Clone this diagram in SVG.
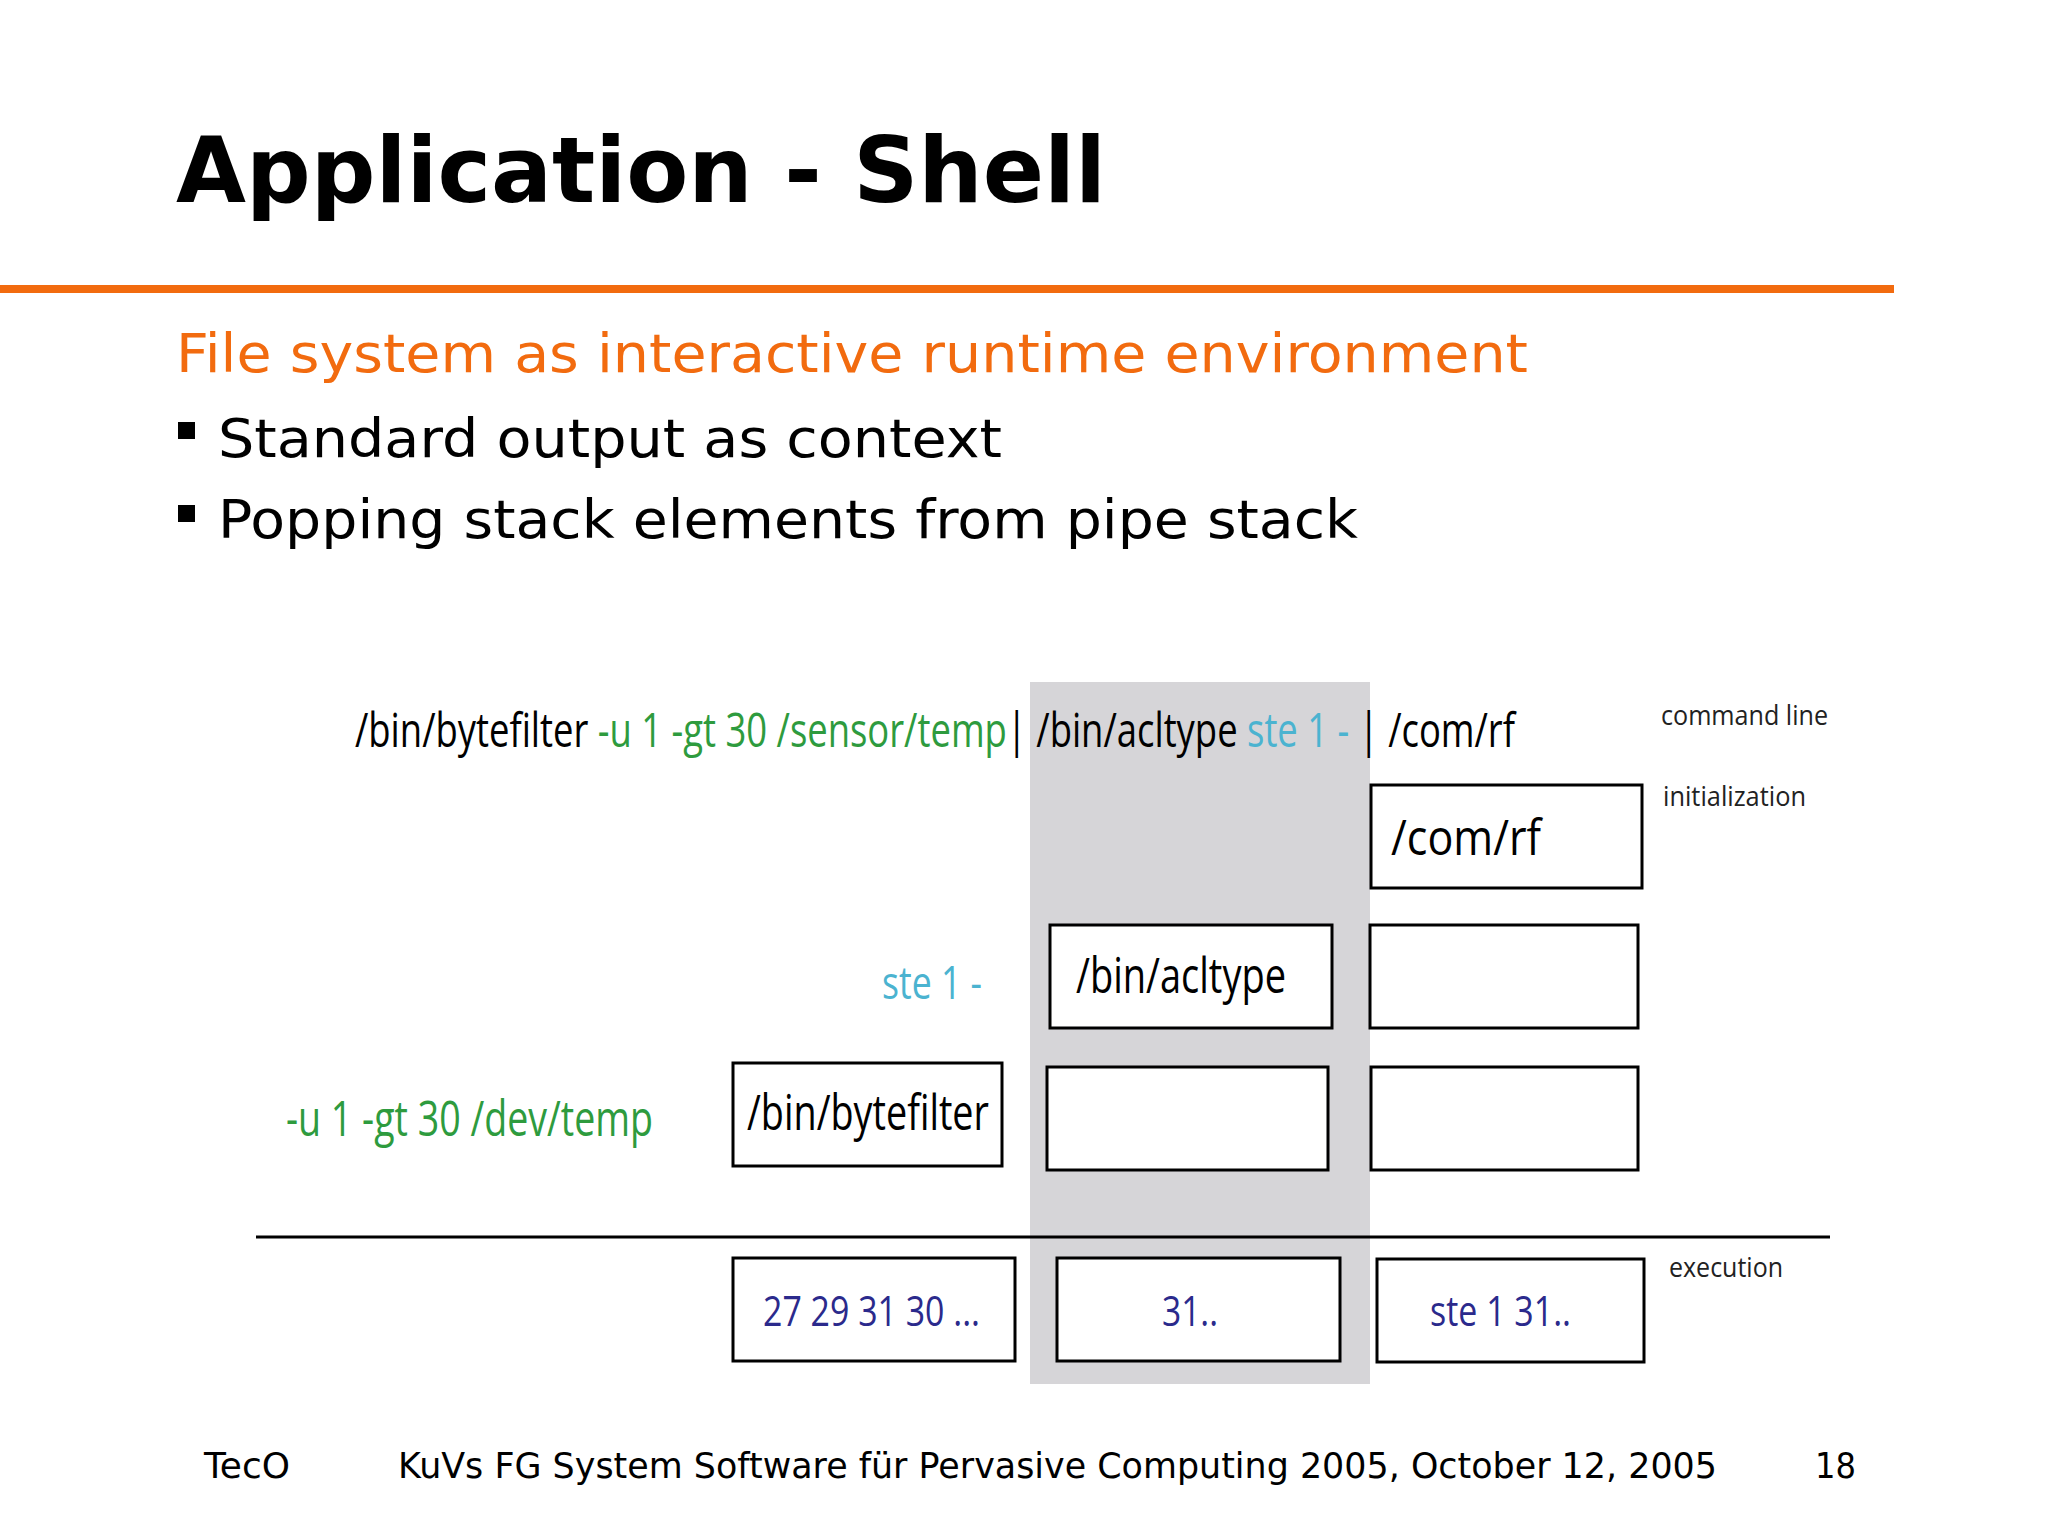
<svg xmlns="http://www.w3.org/2000/svg" width="2048" height="1536" viewBox="0 0 2048 1536">
<style>
.v{font-family:"DejaVu Sans",Verdana,sans-serif}
.c{font-family:"Open Sans","Liberation Sans",sans-serif}
.box{fill:#fff;stroke:#000;stroke-width:3}
.k{fill:#000}.g{fill:#2E9B3E}.b{fill:#4BB3D0}.n{fill:#2B2A8C}
</style>
<rect width="2048" height="1536" fill="#fff"/>
<text class="v" x="176" y="202" font-size="90" font-weight="bold" textLength="930" lengthAdjust="spacingAndGlyphs">Application - Shell</text>
<rect x="0" y="285" width="1894" height="8" fill="#F26B0F"/>
<text class="v" x="176" y="372" font-size="54" fill="#F26B0F" textLength="1352" lengthAdjust="spacingAndGlyphs">File system as interactive runtime environment</text>
<rect x="178" y="422" width="17" height="17" fill="#000"/>
<text class="v" x="218" y="457" font-size="54" textLength="784" lengthAdjust="spacingAndGlyphs">Standard output as context</text>
<rect x="178" y="505" width="17" height="17" fill="#000"/>
<text class="v" x="218" y="538" font-size="54" textLength="1140" lengthAdjust="spacingAndGlyphs">Popping stack elements from pipe stack</text>
<rect x="1030" y="682" width="340" height="702" fill="#D6D5D8"/>
<g id="cmdline">
<text class="c k" x="355" y="747" font-size="48" textLength="1160" lengthAdjust="spacingAndGlyphs">/bin/bytefilter <tspan class="g">-u 1 -gt 30 /sensor/temp</tspan>| /bin/acltype <tspan class="b">ste 1 -</tspan> | /com/rf</text>
</g>
<g class="c" font-size="28" fill="#222">
<text x="1661" y="725" textLength="167" lengthAdjust="spacingAndGlyphs">command line</text>
<text x="1663" y="806" textLength="143" lengthAdjust="spacingAndGlyphs">initialization</text>
<text x="1669" y="1277" textLength="114" lengthAdjust="spacingAndGlyphs">execution</text>
</g>
<g id="comrf"><rect class="box" x="1371" y="785" width="271" height="103"/><text class="c k" x="1391" y="855" font-size="50" textLength="150" lengthAdjust="spacingAndGlyphs">/com/rf</text></g>
<g id="acltype"><rect class="box" x="1050" y="925" width="282" height="103"/><text class="c k" x="1076" y="993" font-size="50" textLength="210" lengthAdjust="spacingAndGlyphs">/bin/acltype</text></g>
<g id="empty1"><rect class="box" x="1370" y="925" width="268" height="103"/></g>
<g id="bytefilter"><rect class="box" x="733" y="1063" width="269" height="103"/><text class="c k" x="747" y="1130" font-size="50" textLength="242" lengthAdjust="spacingAndGlyphs">/bin/bytefilter</text></g>
<g id="empty2"><rect class="box" x="1047" y="1067" width="281" height="103"/></g>
<g id="empty3"><rect class="box" x="1371" y="1067" width="267" height="103"/></g>
<text class="c b" x="882" y="999" font-size="46" textLength="100" lengthAdjust="spacingAndGlyphs">ste 1 -</text>
<text class="c g" x="286" y="1136" font-size="50" textLength="367" lengthAdjust="spacingAndGlyphs">-u 1 -gt 30 /dev/temp</text>
<g id="connectors"><line x1="256" y1="1237" x2="1830" y2="1237" stroke="#000" stroke-width="3"/></g>
<g id="exec1"><rect class="box" x="733" y="1258" width="282" height="103"/><text class="c n" x="763" y="1326" font-size="42" textLength="217" lengthAdjust="spacingAndGlyphs">27 29 31 30 ...</text></g>
<g id="exec2"><rect class="box" x="1057" y="1258" width="283" height="103"/><text class="c n" x="1162" y="1326" font-size="42" textLength="56" lengthAdjust="spacingAndGlyphs">31..</text></g>
<g id="exec3"><rect class="box" x="1377" y="1259" width="267" height="103"/><text class="c n" x="1430" y="1326" font-size="42" textLength="141" lengthAdjust="spacingAndGlyphs">ste 1 31..</text></g>
<g class="v" font-size="36">
<text x="204" y="1478" textLength="86" lengthAdjust="spacingAndGlyphs">TecO</text>
<text x="398" y="1478" textLength="1319" lengthAdjust="spacingAndGlyphs">KuVs FG System Software für Pervasive Computing 2005,  October 12, 2005</text>
<text x="1815" y="1478" textLength="41" lengthAdjust="spacingAndGlyphs">18</text>
</g>
</svg>
